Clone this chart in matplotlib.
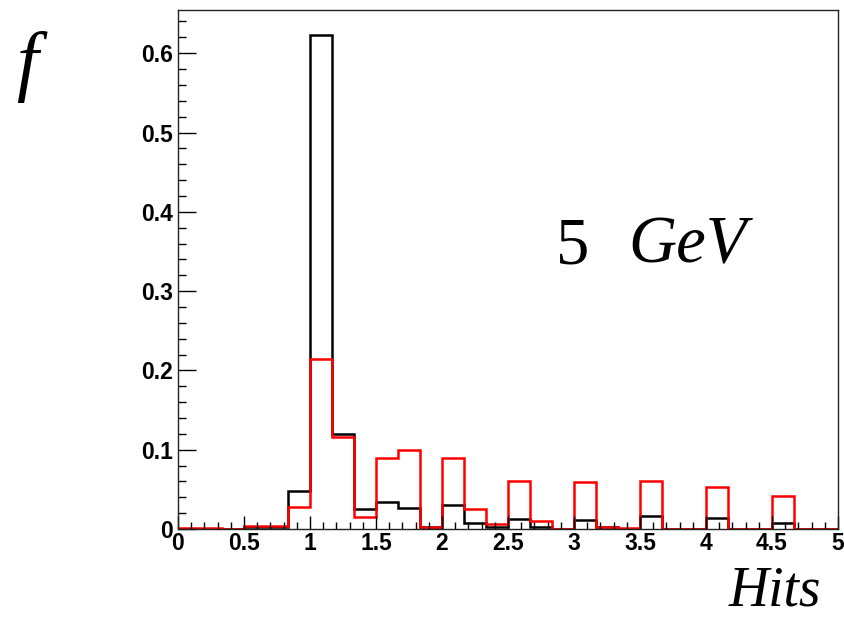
import numpy as np
import matplotlib
matplotlib.use("Agg")
import matplotlib.pyplot as plt
from matplotlib.ticker import MultipleLocator

# Histogram: 30 bins from 0 to 5
nbins = 30
x_range = (0.0, 5.0)

black_vals = [0.000, 0.000, 0.000, 0.003, 0.003, 0.048, 0.623, 0.120, 0.025, 0.034,
              0.026, 0.003, 0.030, 0.008, 0.003, 0.013, 0.003, 0.000, 0.011, 0.002,
              0.000, 0.016, 0.000, 0.000, 0.014, 0.000, 0.000, 0.007, 0.000, 0.000]
red_vals = [0.001, 0.001, 0.000, 0.004, 0.004, 0.028, 0.214, 0.116, 0.015, 0.089,
            0.100, 0.002, 0.090, 0.025, 0.006, 0.060, 0.010, 0.000, 0.059, 0.003,
            0.001, 0.060, 0.000, 0.000, 0.053, 0.000, 0.000, 0.041, 0.000, 0.000]

x_ticks = [0, 0.5, 1, 1.5, 2, 2.5, 3, 3.5, 4, 4.5, 5]
x_tick_labels = ["0", "0.5", "1", "1.5", "2", "2.5", "3", "3.5", "4", "4.5", "5"]
y_ticks = [0, 0.1, 0.2, 0.3, 0.4, 0.5, 0.6]
y_tick_labels = ["0", "0.1", "0.2", "0.3", "0.4", "0.5", "0.6"]

W, H = 845, 620
fig = plt.figure(figsize=(W / 100, H / 100), dpi=100)
ax = fig.add_axes([178 / W, (H - 529) / H, (838 - 178) / W, (529 - 10) / H])

edges = np.linspace(x_range[0], x_range[1], nbins + 1)
ax.stairs(black_vals, edges, color="black", lw=1.8, baseline=0)
ax.stairs(red_vals, edges, color="#ff0000", lw=1.8, baseline=0)

ax.set_xlim(0, 5)
ax.set_ylim(0, 0.6545)

ax.set_xticks(x_ticks)
ax.set_xticklabels(x_tick_labels)
ax.set_yticks(y_ticks)
ax.set_yticklabels(y_tick_labels)
ax.xaxis.set_minor_locator(MultipleLocator(0.1))
ax.yaxis.set_minor_locator(MultipleLocator(0.02))

for lab in ax.get_xticklabels() + ax.get_yticklabels():
    lab.set_fontfamily("Liberation Sans")
    lab.set_fontweight("bold")
    lab.set_fontsize(16.5)

ax.tick_params(axis="x", which="major", direction="in", length=9.5, width=1, pad=2, top=False)
ax.tick_params(axis="x", which="minor", direction="in", length=5, width=1, top=False)
ax.tick_params(axis="y", which="major", direction="in", length=13, width=1, pad=3.5, right=False)
ax.tick_params(axis="y", which="minor", direction="in", length=6, width=1, right=False)

for s in ax.spines.values():
    s.set_linewidth(1.0)
    s.set_color("#222222")

serif = "Liberation Serif"
fig.text(16 / W, 1 - 86 / H, "f", family=serif, style="italic", size=56, ha="left", va="baseline")
fig.text(556 / W, 1 - 263 / H, "5", family=serif, size=48, ha="left", va="baseline")
fig.text(628 / W, 1 - 263 / H, "GeV", family=serif, style="italic", size=48, ha="left", va="baseline")
fig.text(729 / W, 1 - 606 / H, "Hits", family=serif, style="italic", size=40, ha="left", va="baseline")

fig.savefig("out.png", dpi=100)
